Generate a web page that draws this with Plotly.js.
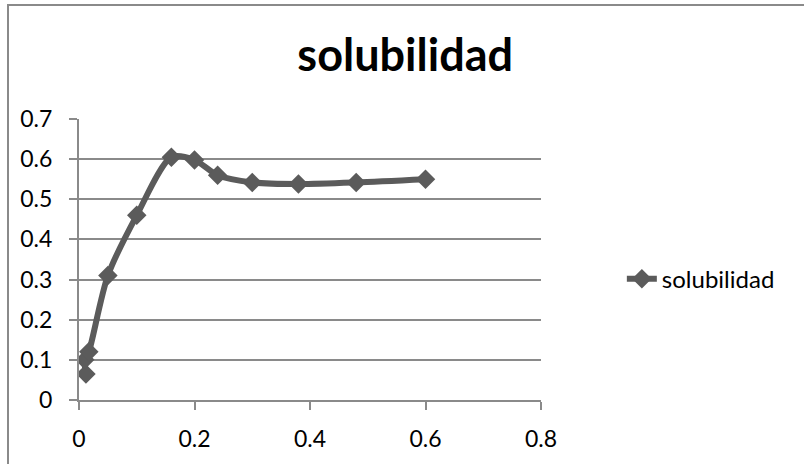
<!DOCTYPE html>
<html>
<head>
<meta charset="utf-8">
<script src="https://cdn.plot.ly/plotly-3.0.1.min.js"></script>
<style>
  html, body { margin: 0; padding: 0; background: #fff; }
  #frame { position: absolute; left: 7px; top: 4px; width: 900px; height: 600px; border-left: 2px solid #8a8a8a; border-top: 2px solid #8a8a8a; }
  #chart { position: absolute; left: 0; top: 0; width: 804px; height: 464px; }
</style>
</head>
<body>
<div id="frame"></div>
<div id="chart"></div>
<script>
const seriesName = "solubilidad";
const xValues = [0.012, 0.01, 0.017, 0.05, 0.1, 0.16, 0.2, 0.24, 0.3, 0.38, 0.48, 0.6];
const yValues = [0.065, 0.1, 0.12, 0.31, 0.46, 0.605, 0.598, 0.56, 0.542, 0.538, 0.542, 0.55];
const xTicks = [0, 0.2, 0.4, 0.6, 0.8];
const xTickLabels = ["0", "0.2", "0.4", "0.6", "0.8"];
const yTicks = [0, 0.1, 0.2, 0.3, 0.4, 0.5, 0.6, 0.7];
const yTickLabels = ["0", "0.1", "0.2", "0.3", "0.4", "0.5", "0.6", "0.7"];

const font = "Lato, Carlito, 'Noto Sans', sans-serif";

const trace = {
  x: xValues,
  y: yValues,
  name: seriesName,
  type: "scatter",
  mode: "lines+markers",
  line: { color: "#5b5b5b", width: 6, shape: "spline", smoothing: 0.8 },
  marker: { symbol: "diamond", size: 15, color: "#5b5b5b" }
};

const layout = {
  width: 804,
  height: 464,
  paper_bgcolor: "rgba(0,0,0,0)",
  plot_bgcolor: "rgba(0,0,0,0)",
  margin: { l: 79, r: 263, t: 119, b: 64 },
  font: { family: font, color: "#000" },
  title: {
    text: "<b>solubilidad</b>",
    font: { family: font, size: 45, color: "#000" },
    x: 0.504, xanchor: "center", xref: "container",
    y: 0.882, yanchor: "middle", yref: "container"
  },
  showlegend: true,
  legend: {
    x: 1.175, xanchor: "left",
    y: 0.43, yanchor: "middle",
    font: { family: font, size: 24, color: "#000" },
    bgcolor: "rgba(0,0,0,0)"
  },
  xaxis: {
    range: [0, 0.8],
    tickvals: xTicks,
    ticktext: xTickLabels,
    showgrid: false,
    zeroline: false,
    showline: true,
    linecolor: "#8a8a8a",
    linewidth: 2,
    ticks: "outside",
    ticklen: 8,
    tickwidth: 2,
    tickcolor: "#8a8a8a",
    ticklabelstandoff: 9,
    tickfont: { family: font, size: 23, color: "#000" }
  },
  yaxis: {
    range: [0, 0.7],
    tickvals: yTicks,
    ticktext: yTickLabels,
    showgrid: true,
    gridcolor: "#8a8a8a",
    gridwidth: 2,
    zeroline: false,
    showline: true,
    linecolor: "#8a8a8a",
    linewidth: 2,
    ticks: "outside",
    ticklen: 8,
    tickwidth: 2,
    tickcolor: "#8a8a8a",
    ticklabelstandoff: 12,
    tickfont: { family: font, size: 23, color: "#000" }
  }
};

Plotly.newPlot("chart", [trace], layout, { displayModeBar: false, staticPlot: true });
</script>
</body>
</html>
